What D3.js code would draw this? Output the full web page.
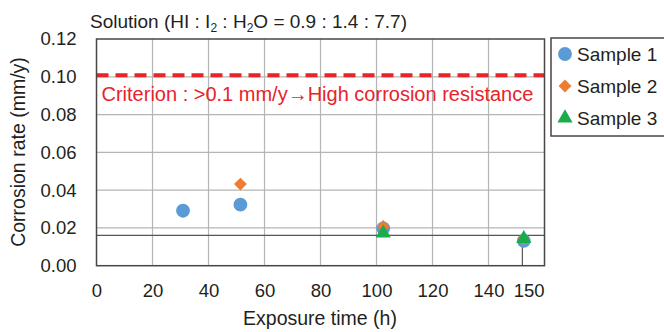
<!DOCTYPE html>
<html>
<head>
<meta charset="utf-8">
<script src="https://cdn.jsdelivr.net/npm/d3@7"></script>
<style>
  body { margin: 0; background: #fff; }
  text { font-family: "Liberation Sans", Arial, sans-serif; fill: #231f20; }
</style>
</head>
<body>
<div id="chart"></div>
<script>
const xTicks = [0, 20, 40, 60, 80, 100, 120, 140];
const yTicks = [0, 0.02, 0.04, 0.06, 0.08, 0.10, 0.12];
const lastTickLabel = "150", lastTickAt = 154.5;

const sample1 = [{t: 30.9, r: 0.0291}, {t: 51.4, r: 0.0323}, {t: 102.4, r: 0.0198}, {t: 152.6, r: 0.0132}];
const sample2 = [{t: 51.4, r: 0.0432}, {t: 102.4, r: 0.0208}, {t: 152.6, r: 0.0142}];
const sample3 = [{t: 102.4, r: 0.0172}, {t: 152.6, r: 0.0143}];

const criterion = 0.10;
const refRate = 0.0161, refTime = 152.1;

const seriesNames = ["Sample 1", "Sample 2", "Sample 3"];
const seriesColors = ["#5b9bd5", "#ed7d31", "#1aab4b"];
const seriesShapes = [d3.symbolCircle, d3.symbolSquare, d3.symbolTriangle];
const seriesSizes = [150, 82, 100];
const seriesRotate = [0, 45, 0];

const W = 664, H = 332;
const margin = {top: 39, right: 119.5, bottom: 66.3, left: 96.5};
const width = W - margin.left - margin.right,
      height = H - margin.top - margin.bottom;

const root = d3.select("#chart").append("svg")
  .attr("width", W).attr("height", H);

const svg = root.append("g")
  .attr("transform", `translate(${margin.left},${margin.top})`);

const x = d3.scaleLinear().domain([0, 160]).range([0, width]);
const y = d3.scaleLinear().domain([0, 0.12]).range([height, 0]);

// grid
svg.append("g").selectAll("line").data(xTicks.slice(1))
  .enter().append("line")
  .attr("x1", d => x(d)).attr("x2", d => x(d))
  .attr("y1", 0).attr("y2", height)
  .attr("stroke", "#b5b5b5").attr("stroke-width", 1.2);

svg.append("g").selectAll("line").data(yTicks.slice(1, -1))
  .enter().append("line")
  .attr("x1", 0).attr("x2", width)
  .attr("y1", d => y(d)).attr("y2", d => y(d))
  .attr("stroke", "#b5b5b5").attr("stroke-width", 1.2);

// reference lines
svg.append("line")
  .attr("x1", 0).attr("x2", width)
  .attr("y1", y(refRate)).attr("y2", y(refRate))
  .attr("stroke", "#5a5555").attr("stroke-width", 1.2);
svg.append("line")
  .attr("x1", x(refTime)).attr("x2", x(refTime))
  .attr("y1", y(refRate)).attr("y2", height)
  .attr("stroke", "#5a5555").attr("stroke-width", 1.2);

// criterion
svg.append("line")
  .attr("x1", 0).attr("x2", width)
  .attr("y1", y(criterion) - 1.5).attr("y2", y(criterion) - 1.5)
  .attr("stroke", "#e8232a").attr("stroke-width", 4)
  .attr("stroke-dasharray", "12,7");

svg.append("text")
  .attr("x", 5).attr("y", y(criterion) + 24)
  .style("font-size", "20px").style("fill", "#e8232a")
  .text("Criterion : >0.1 mm/y\u2192High corrosion resistance");

// frame
svg.append("rect")
  .attr("width", width).attr("height", height)
  .attr("fill", "none").attr("stroke", "#4a4444").attr("stroke-width", 1.5);

// axes labels
const xAxis = d3.axisBottom(x).tickValues(xTicks).tickSize(0).tickPadding(18);
const gx = svg.append("g").attr("transform", `translate(0,${height})`).call(xAxis);
gx.select(".domain").remove();
gx.append("text").attr("x", x(lastTickAt)).attr("y", 18).attr("dy", "0.71em")
  .attr("text-anchor", "middle").text(lastTickLabel);
gx.selectAll("text").style("font-size", "18.5px").style("fill", "#231f20")
  .style("font-family", "Liberation Sans, Arial, sans-serif");

const yAxis = d3.axisLeft(y).tickValues(yTicks).tickFormat(d3.format(".2f")).tickSize(0).tickPadding(20);
const gy = svg.append("g").call(yAxis);
gy.select(".domain").remove();
gy.selectAll("text").style("font-size", "18.5px").style("fill", "#231f20")
  .style("font-family", "Liberation Sans, Arial, sans-serif");

// points
const symbolFor = i => d3.symbol().type(seriesShapes[i]).size(seriesSizes[i]);
[sample1, sample2, sample3].forEach((data, i) => {
  svg.append("g").selectAll("path").data(data)
    .enter().append("path")
    .attr("transform", d => `translate(${x(d.t)},${y(d.r)}) rotate(${seriesRotate[i]})`)
    .attr("d", symbolFor(i))
    .attr("fill", seriesColors[i]);
});

// titles
root.append("text").attr("x", 90).attr("y", 28)
  .style("font-size", "19px")
  .html('Solution (HI : I<tspan dy="4" style="font-size:12px">2</tspan><tspan dy="-4"> : H</tspan><tspan dy="4" style="font-size:12px">2</tspan><tspan dy="-4">O = 0.9 : 1.4 : 7.7)</tspan>');

root.append("text").attr("x", 320).attr("y", 325)
  .attr("text-anchor", "middle").style("font-size", "19.5px")
  .text("Exposure time (h)");

root.append("text")
  .attr("transform", `translate(25,152) rotate(-90)`)
  .attr("text-anchor", "middle").style("font-size", "19.5px")
  .text("Corrosion rate (mm/y)");

// legend
const lg = root.append("g").attr("transform", "translate(551,38)");
lg.append("rect").attr("width", 130).attr("height", 98)
  .attr("fill", "#fff").attr("stroke", "#4a4444").attr("stroke-width", 1.5);
seriesNames.forEach((name, i) => {
  const row = lg.append("g").attr("transform", `translate(14,${16 + i * 32})`);
  row.append("path")
    .attr("transform", `rotate(${seriesRotate[i]})`)
    .attr("d", symbolFor(i))
    .attr("fill", seriesColors[i]);
  row.append("text").attr("x", 12).attr("dy", "0.36em")
    .style("font-size", "19px").text(name);
});
</script>
</body>
</html>
